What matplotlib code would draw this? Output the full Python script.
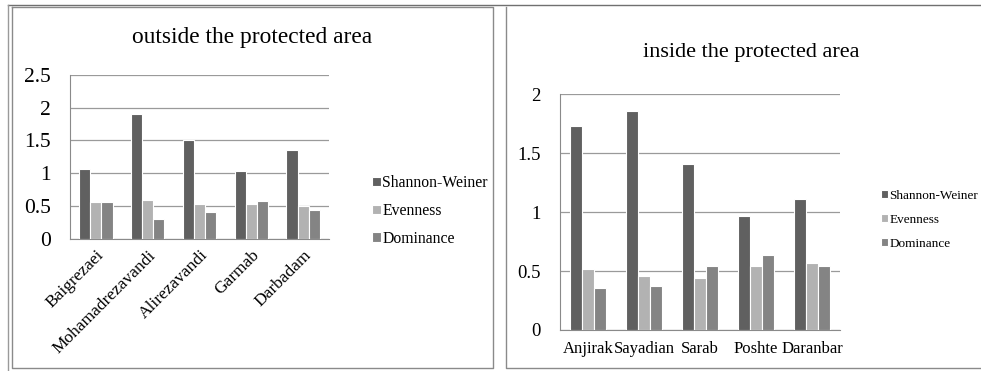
import numpy as np
import matplotlib
matplotlib.use('Agg')
import matplotlib.pyplot as plt
from matplotlib.lines import Line2D

plt.rcParams['font.family'] = ['Liberation Serif', 'DejaVu Serif']

series = ['Shannon-Weiner', 'Evenness', 'Dominance']
colors = ['#606060', '#b2b2b2', '#848484']

# outside the protected area
out_sites = ['Baigrezaei', 'Mohamadrezavandi', 'Alirezavandi', 'Garmab', 'Darbadam']
out_shannon = [1.07, 1.90, 1.50, 1.03, 1.36]
out_evenness = [0.57, 0.60, 0.54, 0.54, 0.50]
out_dominance = [0.57, 0.30, 0.41, 0.58, 0.44]

# inside the protected area
in_sites = ['Anjirak', 'Sayadian', 'Sarab', 'Poshte', 'Daranbar']
in_shannon = [1.73, 1.86, 1.41, 0.97, 1.11]
in_evenness = [0.52, 0.46, 0.44, 0.54, 0.57]
in_dominance = [0.36, 0.37, 0.54, 0.64, 0.54]

W, H = 981, 371
fig = plt.figure(figsize=(W / 100, H / 100), dpi=100)


def px_box(x0, y0, x1, y1):
    # pixel box (top-left origin) -> figure fraction rect
    return [x0 / W, 1 - y1 / H, (x1 - x0) / W, (y1 - y0) / H]


def fig_line(xs, ys, color='#8a8a8a', lw=1.0):
    fig.add_artist(Line2D([x / W for x in xs], [1 - y / H for y in ys],
                          transform=fig.transFigure, color=color, lw=lw))


def draw_panel(ax, sites, values, ymax, step, tick_size, rotate):
    x = np.arange(len(sites))
    w = 0.215
    for i, (vals, c) in enumerate(zip(values, colors)):
        ax.bar(x + (i - 1) * w, vals, w, color=c, edgecolor='white',
               linewidth=0.8, label=series[i], zorder=3)
    ax.set_xlim(-0.5, len(sites) - 0.5)
    ax.set_ylim(0, ymax)
    ticks = np.arange(0, ymax + 1e-9, step)
    ax.set_yticks(ticks)
    ax.set_yticklabels(['%g' % t for t in ticks], fontsize=tick_size)
    ax.yaxis.grid(True, color='#9a9a9a', lw=0.9, zorder=0)
    ax.set_axisbelow(True)
    for s in ['top', 'right']:
        ax.spines[s].set_visible(False)
    ax.spines['left'].set_color('#8a8a8a')
    ax.spines['bottom'].set_color('#8a8a8a')
    ax.tick_params(axis='both', length=0)
    ax.tick_params(axis='y', pad=14)
    ax.set_xticks(x)
    if rotate:
        ax.set_xticklabels(sites, rotation=45, ha='right', rotation_mode='anchor',
                           fontsize=12.5)
        ax.tick_params(axis='x', pad=6)
    else:
        ax.set_xticklabels(sites, fontsize=12)
        ax.tick_params(axis='x', pad=8)


# panel frames
fig_line([8, W], [5, 5], color='#707070')
fig_line([8, 8], [5, H], color='#9a9a9a')
fig_line([12, 12, 493, 493, 12], [7, 368, 368, 7, 7])
fig_line([506, 506, W], [7, 368, 368])

ax1 = fig.add_axes(px_box(70, 74.7, 329, 239))
draw_panel(ax1, out_sites, [out_shannon, out_evenness, out_dominance],
           2.5, 0.5, 15.5, True)
fig.text(252 / W, 1 - 37 / H, 'outside the protected area', ha='center',
         va='center', fontsize=16.8)
ax1.legend(loc='center left', bbox_to_anchor=(358 / W, 1 - 211 / H),
           bbox_transform=fig.transFigure, frameon=False, fontsize=11.3,
           handlelength=0.55, handleheight=0.55, handletextpad=0.1,
           labelspacing=0.75)

ax2 = fig.add_axes(px_box(560, 94.3, 840, 330))
draw_panel(ax2, in_sites, [in_shannon, in_evenness, in_dominance],
           2, 0.5, 13.5, False)
fig.text(751 / W, 1 - 52 / H, 'inside the protected area', ha='center',
         va='center', fontsize=16)
ax2.legend(loc='center left', bbox_to_anchor=(869 / W, 1 - 220 / H),
           bbox_transform=fig.transFigure, frameon=False, fontsize=9.5,
           handlelength=0.55, handleheight=0.55, handletextpad=0.1,
           labelspacing=0.9)

fig.savefig('out.png', dpi=100)
